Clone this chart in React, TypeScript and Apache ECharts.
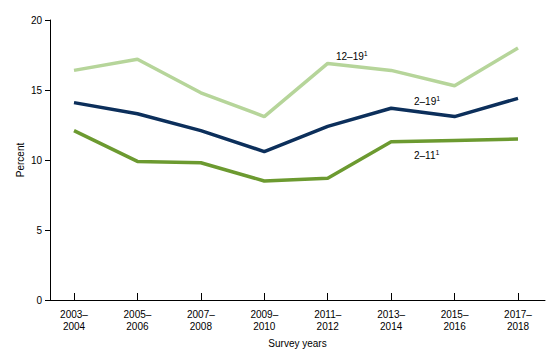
import React, { useEffect, useRef } from "react";
import * as echarts from "echarts";

const categories = ["2003–\n2004", "2005–\n2006", "2007–\n2008", "2009–\n2010", "2011–\n2012", "2013–\n2014", "2015–\n2016", "2017–\n2018"];
const teen = [16.4, 17.2, 14.8, 13.1, 16.9, 16.4, 15.3, 18.0];
const all = [14.1, 13.3, 12.1, 10.6, 12.4, 13.7, 13.1, 14.4];
const child = [12.1, 9.9, 9.8, 8.5, 8.7, 11.3, 11.4, 11.5];
const seriesNames = ["12–19", "2–19", "2–11"];

const FONT = "Liberation Sans, Arial, sans-serif";

export default function App() {
  const ref = useRef<HTMLDivElement>(null);
  useEffect(() => {
    document.body.style.margin = "0";
    const chart = echarts.init(ref.current!, null, { renderer: "svg" });
    const top = 20, bottom = 59;
    const label = (name: string, x: number, y: number) => ({
      type: "text",
      x,
      y,
      style: {
        text: `{b|${name}}{s|1}`,
        rich: {
          b: { fontSize: 10, fontFamily: FONT, fill: "#000" },
          s: { fontSize: 7, fontFamily: FONT, fill: "#000", padding: [0, 0, 6, 0] },
        },
        textVerticalAlign: "middle",
      },
    });
    chart.setOption({
      animation: false,
      backgroundColor: "#fff",
      textStyle: { fontFamily: FONT },
      grid: [
        { left: 74, right: 42, top, bottom },
        { left: 50, right: 15, top, bottom },
      ],
      xAxis: [
        {
          type: "category",
          gridIndex: 0,
          data: categories,
          boundaryGap: false,
          axisLine: { show: false },
          axisTick: { show: true, inside: true, length: 7, lineStyle: { color: "#000" } },
          axisLabel: { fontSize: 10, color: "#000", lineHeight: 12, margin: 8, fontFamily: FONT },
        },
        {
          type: "value",
          gridIndex: 1,
          min: 0,
          max: 1,
          axisLine: { show: true, lineStyle: { color: "#000", width: 1 } },
          axisTick: { show: false },
          axisLabel: { show: false },
          splitLine: { show: false },
          name: "Survey years",
          nameLocation: "middle",
          nameGap: 38,
          nameTextStyle: { fontSize: 10, color: "#000", fontFamily: FONT },
        },
      ],
      yAxis: [
        { type: "value", gridIndex: 0, min: 0, max: 20, show: false, splitLine: { show: false } },
        {
          type: "value",
          gridIndex: 1,
          min: 0,
          max: 20,
          interval: 5,
          axisLine: { show: true, lineStyle: { color: "#000", width: 1 } },
          axisTick: { show: true, length: 5, lineStyle: { color: "#000" } },
          axisLabel: { fontSize: 10, color: "#000", margin: 8, fontFamily: FONT },
          splitLine: { show: false },
        },
      ],
      series: [
        { name: seriesNames[0], type: "line", data: teen, symbol: "none", lineStyle: { color: "#b6d59a", width: 3.5 }, xAxisIndex: 0, yAxisIndex: 0 },
        { name: seriesNames[1], type: "line", data: all, symbol: "none", lineStyle: { color: "#0c2f5b", width: 3.5 }, xAxisIndex: 0, yAxisIndex: 0 },
        { name: seriesNames[2], type: "line", data: child, symbol: "none", lineStyle: { color: "#6c9a30", width: 3.5 }, xAxisIndex: 0, yAxisIndex: 0 },
      ],
      graphic: [
        label(seriesNames[0], 336, 56),
        label(seriesNames[1], 414, 101),
        label(seriesNames[2], 414, 155),
        {
          type: "text",
          x: 20,
          y: 160,
          rotation: Math.PI / 2,
          style: { text: "Percent", fontSize: 10, fontFamily: FONT, fill: "#000", textAlign: "center", textVerticalAlign: "middle" },
        },
      ],
    });
    return () => chart.dispose();
  }, []);
  return <div ref={ref} style={{ width: 560, height: 359 }} />;
}
